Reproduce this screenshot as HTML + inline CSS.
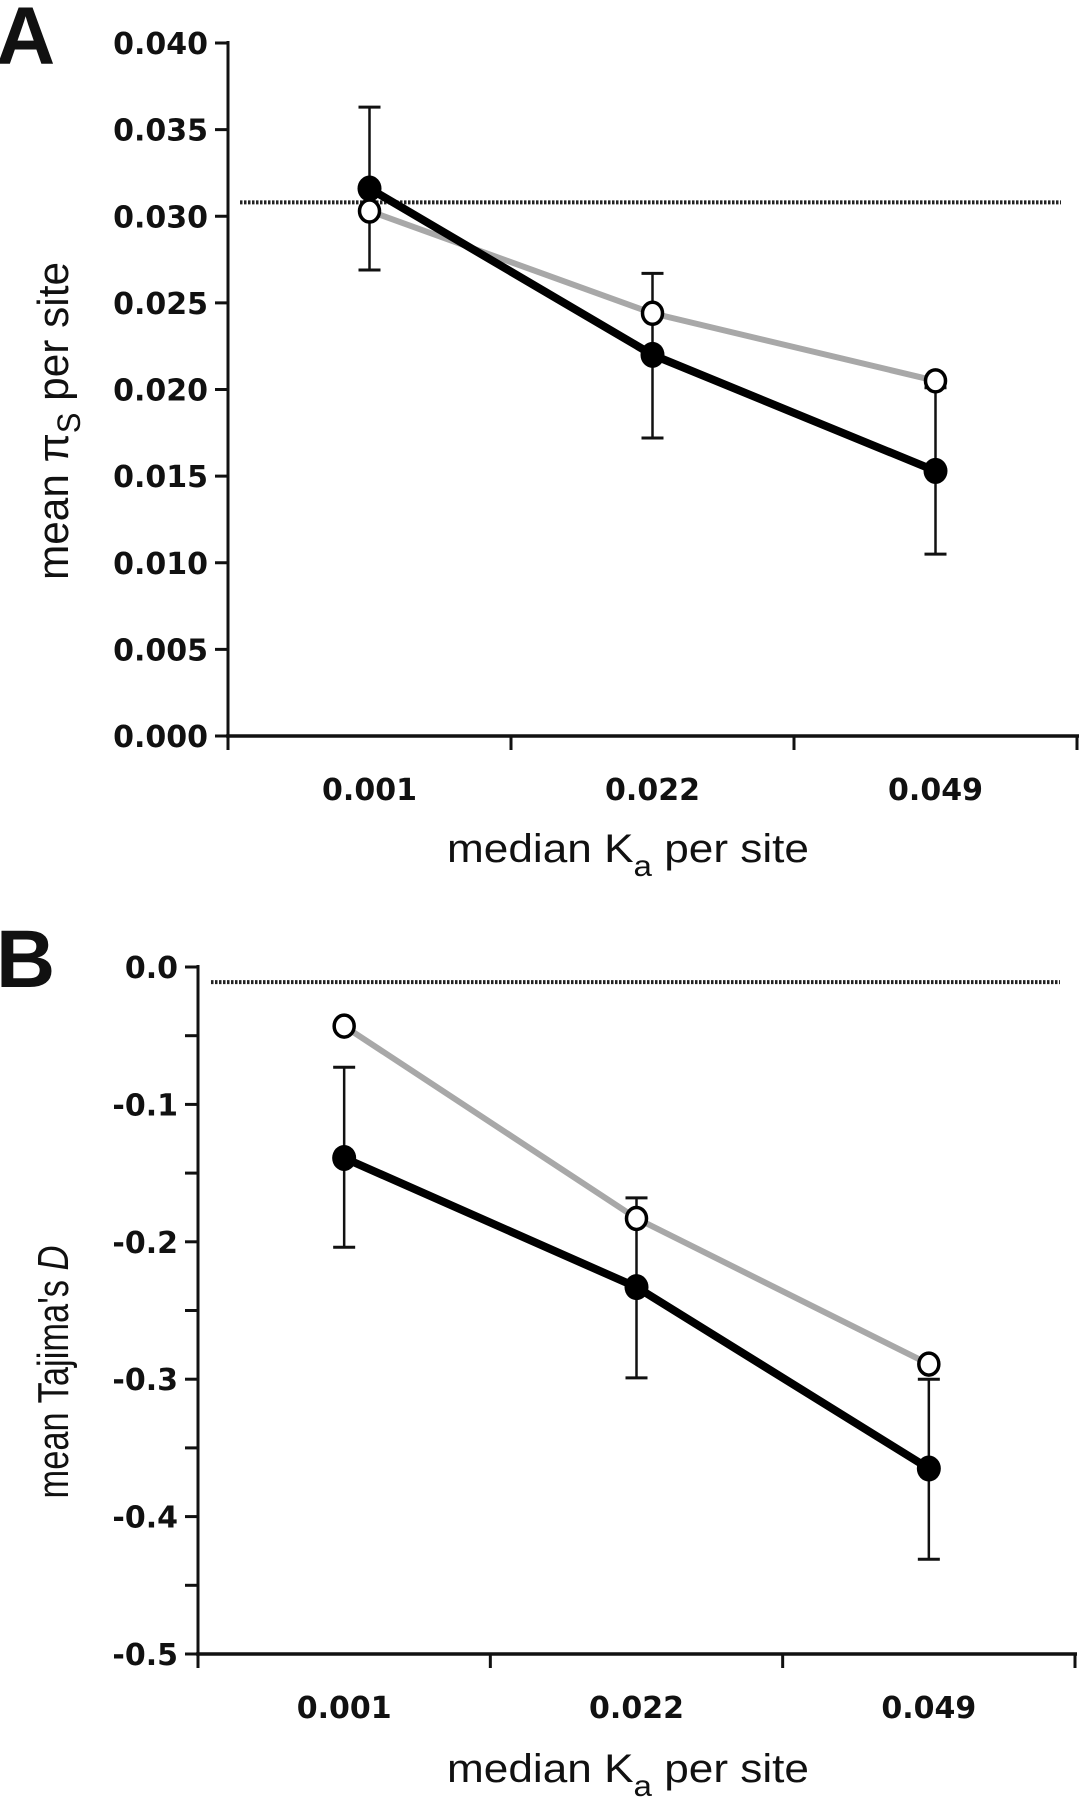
<!DOCTYPE html>
<html><head><meta charset="utf-8"><style>
html,body{margin:0;padding:0;background:#fff;width:1079px;height:1800px;overflow:hidden}
svg{display:block}
.tick{font-family:"DejaVu Sans",sans-serif;font-weight:bold;font-size:30px;fill:#111}
.title{font-family:"Liberation Sans",sans-serif;font-size:40px;fill:#111}
.ytitle{font-family:"Liberation Sans",sans-serif;font-size:44px;fill:#111}
.panel{font-family:"Liberation Sans",sans-serif;font-weight:bold;font-size:82px;fill:#111}
</style></head><body>
<svg id="chart" width="1079" height="1800" viewBox="0 0 1079 1800" xmlns="http://www.w3.org/2000/svg">
<text class="panel" x="-4" y="64">A</text>
<text class="panel" x="-4" y="987">B</text>
<text class="title" x="628" y="862" text-anchor="middle" textLength="362" lengthAdjust="spacingAndGlyphs">median K<tspan dy="14" font-size="30">a</tspan><tspan dy="-14"> per site</tspan></text>
<text class="title" x="628" y="1782" text-anchor="middle" textLength="362" lengthAdjust="spacingAndGlyphs">median K<tspan dy="14" font-size="30">a</tspan><tspan dy="-14"> per site</tspan></text>
<text class="ytitle" transform="translate(68,421) rotate(-90)" text-anchor="middle" textLength="318" lengthAdjust="spacingAndGlyphs">mean π<tspan dy="12" font-size="32">S</tspan><tspan dy="-12"> per site</tspan></text>
<text class="ytitle" transform="translate(68,1372) rotate(-90)" text-anchor="middle" textLength="253" lengthAdjust="spacingAndGlyphs">mean Tajima's <tspan font-style="italic">D</tspan></text>
</svg>
<script>
const categories = ["0.001","0.022","0.049"];
const aBlack = [0.0316, 0.0220, 0.0153];
const aOpen = [0.0303, 0.0244, 0.0205];
const aErrLow = [0.0269, 0.0172, 0.0105];
const aErrHigh = [0.0363, 0.0267, 0.0201];
const aRef = 0.0308;
const aTicks = [0.000,0.005,0.010,0.015,0.020,0.025,0.030,0.035,0.040];
const aTickLabels = ["0.000","0.005","0.010","0.015","0.020","0.025","0.030","0.035","0.040"];
const bBlack = [-0.139, -0.233, -0.365];
const bOpen = [-0.043, -0.183, -0.289];
const bErrLow = [-0.204, -0.299, -0.431];
const bErrHigh = [-0.073, -0.168, -0.300];
const bRef = -0.011;
const bTicks = [0,-0.1,-0.2,-0.3,-0.4,-0.5];
const bTickLabels = ["0.0","-0.1","-0.2","-0.3","-0.4","-0.5"];
const bMinor = [-0.05,-0.15,-0.25,-0.35,-0.45];

const NS="http://www.w3.org/2000/svg";
const svg=document.getElementById('chart');
function mk(tag,attrs,name){const e=document.createElementNS(NS,tag);for(const k in attrs)e.setAttribute(k,attrs[k]);


svg.appendChild(e);return e;}

function panel(p){
  const y=v=>p.y0+(v-p.vmin)/(p.vmax-p.vmin)*(p.y1-p.y0);
  const x=i=>p.xl+(i+0.5)*(p.xr-p.xl)/categories.length;
  mk('line',{x1:p.xl,y1:p.y1-2,x2:p.xl,y2:p.y0+2,stroke:'#111','stroke-width':3},p.id+'-y-axis');
  mk('line',{x1:p.xl-2,y1:p.y0,x2:p.xr+2,y2:p.y0,stroke:'#111','stroke-width':3.5},p.id+'-x-axis');
  for(let i=0;i<=categories.length;i++){
    const xx=p.xl+i*(p.xr-p.xl)/categories.length;
    mk('line',{x1:xx,y1:p.y0,x2:xx,y2:p.y0+14,stroke:'#111','stroke-width':3},p.id+'-x-tick');
  }
  categories.forEach((c,i)=>{const t=mk('text',{x:x(i),y:p.labY,'text-anchor':'middle',class:'tick'},p.id+'-x-tick-label');t.textContent=c;});
  p.ticks.forEach((v,i)=>{
    mk('line',{x1:p.xl-13,y1:y(v),x2:p.xl,y2:y(v),stroke:'#111','stroke-width':3},p.id+'-y-tick');
    const t=mk('text',{x:p.xl-20,y:y(v)+11,'text-anchor':'end',class:'tick'},p.id+'-y-tick-label');t.textContent=p.labels[i];
  });
  (p.minor||[]).forEach(v=>mk('line',{x1:p.xl-13,y1:y(v),x2:p.xl,y2:y(v),stroke:'#111','stroke-width':3},p.id+'-y-minor-tick'));
  mk('line',{x1:p.refX1,y1:y(p.ref),x2:p.refX2,y2:y(p.ref),stroke:'#222','stroke-width':4,'stroke-dasharray':'2.5 1.5'},p.id+'-reference-line');
  p.black.forEach((v,i)=>{
    mk('line',{x1:x(i),y1:y(p.lo[i]),x2:x(i),y2:y(p.hi[i]),stroke:'#111','stroke-width':2.5},p.id+'-error-bar');
    mk('line',{x1:x(i)-11,y1:y(p.lo[i]),x2:x(i)+11,y2:y(p.lo[i]),stroke:'#111','stroke-width':3},p.id+'-error-cap-low');
    mk('line',{x1:x(i)-11,y1:y(p.hi[i]),x2:x(i)+11,y2:y(p.hi[i]),stroke:'#111','stroke-width':3},p.id+'-error-cap-high');
  });
  mk('polyline',{points:p.open.map((v,i)=>x(i)+','+y(v)).join(' '),fill:'none',stroke:'#a8a8a8','stroke-width':6},p.id+'-open-series-line');
  mk('polyline',{points:p.black.map((v,i)=>x(i)+','+y(v)).join(' '),fill:'none',stroke:'#000','stroke-width':8},p.id+'-filled-series-line');
  p.open.forEach((v,i)=>mk('ellipse',{cx:x(i),cy:y(v),rx:10,ry:11,fill:'#fff',stroke:'#000','stroke-width':3.5},p.id+'-open-point'));
  p.black.forEach((v,i)=>mk('ellipse',{cx:x(i),cy:y(v),rx:12,ry:13,fill:'#000'},p.id+'-filled-point'));
}
panel({id:'a',xl:228,xr:1077,y0:736,y1:43,vmin:0,vmax:0.04,ticks:aTicks,labels:aTickLabels,labY:800,
  black:aBlack,open:aOpen,lo:aErrLow,hi:aErrHigh,ref:aRef,refX1:240,refX2:1061});
panel({id:'b',xl:198,xr:1075,y0:1654,y1:967,vmin:-0.5,vmax:0,ticks:bTicks,labels:bTickLabels,minor:bMinor,labY:1718,
  black:bBlack,open:bOpen,lo:bErrLow,hi:bErrHigh,ref:bRef,refX1:211,refX2:1060});
</script>
</body></html>
